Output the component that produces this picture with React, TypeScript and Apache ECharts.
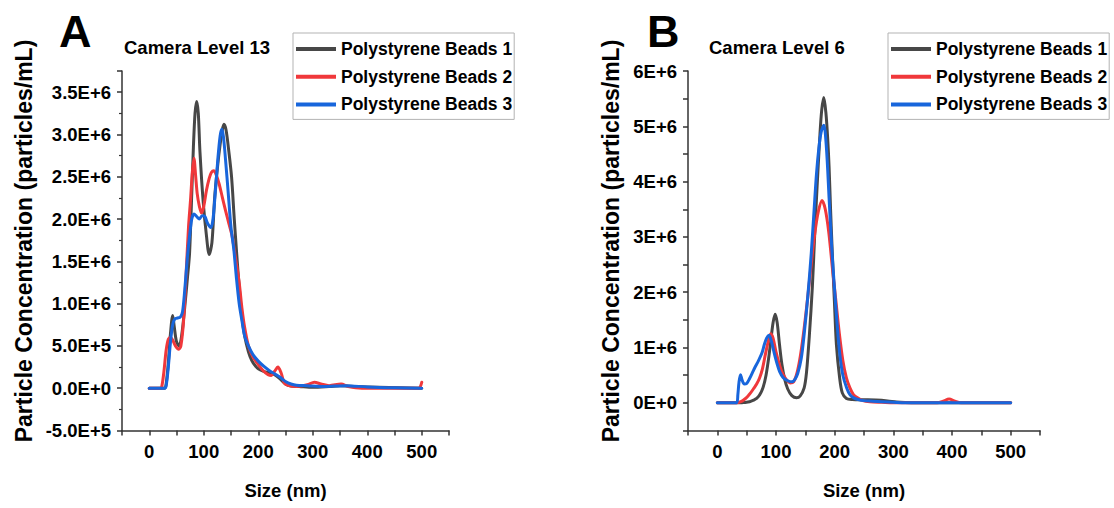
import React, { useEffect, useRef } from "react";
import * as echarts from "echarts";

// ---------- data ----------
const SERIES_NAMES = ["Polystyrene Beads 1", "Polystyrene Beads 2", "Polystyrene Beads 3"];

// Panel A: Camera Level 13 (size in nm, concentration in millions of particles/mL)
const A1_SIZE = [0, 28, 31, 35, 39, 43, 46, 50, 55, 60, 65, 70, 74, 78, 81, 84, 87, 90, 93, 99, 105, 110, 115, 120, 125, 130, 134, 137, 141, 146, 151, 156, 160, 165, 170, 175, 182, 188, 194, 200, 210, 220, 230, 240, 250, 260, 275, 300, 330, 350, 380, 420, 460, 500];
const A1_CONC_M = [0, 0, 0.05, 0.3, 0.65, 0.86, 0.72, 0.55, 0.5, 0.65, 0.95, 1.3, 1.6, 2.3, 2.85, 3.25, 3.39, 3.25, 2.8, 2.2, 1.8, 1.58, 1.72, 2.25, 2.6, 2.88, 3.05, 3.12, 3.05, 2.8, 2.5, 2.0, 1.63, 1.2, 0.85, 0.62, 0.43, 0.33, 0.27, 0.23, 0.2, 0.18, 0.16, 0.11, 0.05, 0.025, 0.02, 0.01, 0.02, 0.03, 0.02, 0.01, 0.005, 0];

const A2_SIZE = [0, 20, 23, 27, 31, 35, 39, 43, 48, 54, 58, 63, 68, 72, 76, 79, 82, 85, 88, 92, 96, 100, 105, 110, 114, 118.5, 123, 128, 134, 140, 146, 152, 158, 165, 170, 175, 182, 190, 200, 210, 218, 224, 230, 236, 242, 248, 256, 270, 290, 303, 315, 330, 352, 365, 390, 420, 460, 494, 500];
const A2_CONC_M = [0, 0, 0.02, 0.2, 0.45, 0.58, 0.6, 0.57, 0.5, 0.46, 0.5, 0.8, 1.4, 1.9, 2.25, 2.55, 2.72, 2.52, 2.3, 2.15, 2.07, 2.15, 2.34, 2.48, 2.55, 2.57, 2.52, 2.42, 2.26, 2.1, 1.95, 1.8, 1.55, 1.25, 0.95, 0.72, 0.5, 0.37, 0.28, 0.2, 0.16, 0.15, 0.2, 0.25, 0.18, 0.06, 0.03, 0.02, 0.04, 0.07, 0.05, 0.03, 0.05, 0.02, 0, 0, 0, 0, 0.07];

const A3_SIZE = [0, 28, 31, 35, 39, 43, 47, 52, 57, 61, 65, 70, 74, 78, 82, 87, 92, 97, 102, 107, 113, 117, 121, 126, 130, 133, 136, 140, 145, 150, 155, 160, 165, 170, 175, 182, 190, 200, 210, 220, 230, 240, 250, 260, 270, 290, 320, 360, 400, 450, 500];
const A3_CONC_M = [0, 0, 0.03, 0.25, 0.55, 0.75, 0.82, 0.83, 0.84, 0.9, 1.15, 1.55, 1.8, 2.0, 2.06, 2.03, 2.0, 2.04, 2.03, 1.95, 1.9, 2.0, 2.3, 2.72, 2.98, 3.06, 2.98, 2.7, 2.3, 1.9, 1.65, 1.3, 1.0, 0.8, 0.62, 0.5, 0.4, 0.32, 0.26, 0.21, 0.17, 0.13, 0.08, 0.05, 0.035, 0.03, 0.02, 0.03, 0.015, 0.005, 0];

// Panel B: Camera Level 6
const B1_SIZE = [0, 40, 45, 55, 62, 67, 72, 78, 83, 88, 92, 95, 98.5, 102, 106, 110, 115, 120, 127, 135, 141, 148, 152, 157, 162, 166, 170, 175, 178, 181.5, 185, 188, 190.5, 193, 196, 199.5, 203, 208.5, 213, 220, 230, 250, 270, 290, 305, 320, 340, 500];
const B1_CONC_M = [0, 0, 0.005, 0.02, 0.05, 0.08, 0.14, 0.28, 0.5, 0.85, 1.2, 1.45, 1.6, 1.45, 1.05, 0.7, 0.42, 0.25, 0.13, 0.09, 0.12, 0.27, 0.55, 1.24, 2.1, 3.05, 3.9, 4.87, 5.3, 5.52, 5.25, 4.8, 4.26, 3.5, 2.7, 1.85, 1.05, 0.45, 0.18, 0.08, 0.06, 0.055, 0.05, 0.035, 0.015, 0.005, 0, 0];

const B2_SIZE = [0, 32, 40, 47, 52, 56, 62, 67, 72, 77, 82, 87, 91, 95, 100, 105, 110, 117, 124, 130, 136, 142, 148, 154, 160, 166, 172, 178.5, 184, 190, 196, 202, 208, 214, 220, 226, 232, 239, 248, 260, 280, 300, 375, 385, 395, 405, 415, 500];
const B2_CONC_M = [0, 0, 0.02, 0.07, 0.12, 0.17, 0.26, 0.34, 0.45, 0.62, 0.88, 1.12, 1.25, 1.17, 0.92, 0.72, 0.56, 0.43, 0.36, 0.38, 0.55, 0.88, 1.35, 1.9, 2.5, 3.05, 3.45, 3.66, 3.5, 3.08, 2.45, 1.85, 1.25, 0.76, 0.45, 0.27, 0.15, 0.09, 0.04, 0.02, 0.01, 0, 0, 0.03, 0.07, 0.03, 0, 0];

const B3_SIZE = [0, 33, 35, 37, 39.5, 42, 46, 50, 55, 60, 64, 70, 76, 80, 84, 88, 92, 97, 102, 106, 112, 120, 127, 132, 137, 143, 148, 154, 160, 165, 169, 173, 177, 181.5, 186, 190.5, 195, 199.5, 204, 208.5, 214, 220.5, 226, 232.6, 240, 250, 265, 280, 300, 320, 500];
const B3_CONC_M = [0, 0, 0.15, 0.38, 0.51, 0.42, 0.34, 0.35, 0.44, 0.55, 0.64, 0.76, 0.9, 1.05, 1.17, 1.22, 1.12, 0.9, 0.7, 0.57, 0.46, 0.4, 0.38, 0.42, 0.53, 0.8, 1.24, 1.9, 2.69, 3.5, 4.14, 4.6, 4.9, 5.02, 4.6, 3.7, 2.8, 2.1, 1.45, 0.9, 0.5, 0.27, 0.15, 0.09, 0.06, 0.04, 0.03, 0.02, 0.01, 0, 0];

// tick labels
const X_TICK_VALUES = [0, 100, 200, 300, 400, 500];
const X_TICK_LABELS = ["0", "100", "200", "300", "400", "500"];
const A_Y_TICK_VALUES = [-5e5, 0, 5e5, 1e6, 1.5e6, 2e6, 2.5e6, 3e6, 3.5e6];
const A_Y_TICK_LABELS = ["-5.0E+5", "0.0E+0", "5.0E+5", "1.0E+6", "1.5E+6", "2.0E+6", "2.5E+6", "3.0E+6", "3.5E+6"];
const B_Y_TICK_VALUES = [0, 1e6, 2e6, 3e6, 4e6, 5e6, 6e6];
const B_Y_TICK_LABELS = ["0E+0", "1E+6", "2E+6", "3E+6", "4E+6", "5E+6", "6E+6"];

const PANEL_LETTERS = ["A", "B"];
const PANEL_TITLES = ["Camera Level 13", "Camera Level 6"];
const X_TITLE = "Size (nm)";
const Y_TITLE = "Particle Concentration (particles/mL)";

// ---------- styles ----------
const COLORS = ["#474747", "#f0383b", "#1866dc"];
const FONT = '"Liberation Sans", Arial, Helvetica, sans-serif';
const AXIS_COLOR = "#333";

function labelFrom(values: number[], labels: string[]) {
  return (v: number) => {
    for (let i = 0; i < values.length; i++) {
      if (Math.abs(values[i] - v) < 1e-3 * Math.max(1, Math.abs(values[i]))) return labels[i];
    }
    return "";
  };
}

function zip(xs: number[], ys: number[]) {
  return xs.map((x, i) => [x, ys[i] * 1e6]);
}

export default function App() {
  const ref = useRef<HTMLDivElement>(null);

  useEffect(() => {
    document.body.style.margin = "0";
    if (!ref.current) return;
    const chart = echarts.init(ref.current, null, { renderer: "svg" });

    const textBase = { fontFamily: FONT, fontWeight: "bold" as const, color: "#000" };

    const xAxisCommon = (gridIndex: number) => ({
      gridIndex,
      type: "value" as const,
      min: -50,
      max: 550,
      interval: 50,
      axisLine: { show: true, onZero: false, lineStyle: { color: AXIS_COLOR, width: 1.5 } },
      axisTick: { show: true, length: 5, lineStyle: { color: AXIS_COLOR, width: 1.5 } },
      splitLine: { show: false },
      axisLabel: {
        ...textBase,
        fontSize: 18.5,
        margin: 11,
        formatter: labelFrom(X_TICK_VALUES, X_TICK_LABELS),
      },
      name: X_TITLE,
      nameLocation: "middle" as const,
      nameGap: 50,
      nameTextStyle: { ...textBase, fontSize: 18.5 },
    });

    const series: any[] = [];
    const panels = [
      { sizes: [A1_SIZE, A2_SIZE, A3_SIZE], concs: [A1_CONC_M, A2_CONC_M, A3_CONC_M] },
      { sizes: [B1_SIZE, B2_SIZE, B3_SIZE], concs: [B1_CONC_M, B2_CONC_M, B3_CONC_M] },
    ];
    panels.forEach((p, pi) => {
      for (let s = 0; s < 3; s++) {
        series.push({
          type: "line",
          name: SERIES_NAMES[s],
          xAxisIndex: pi,
          yAxisIndex: pi,
          data: zip(p.sizes[s], p.concs[s]),
          showSymbol: false,
          symbol: "none",
          smooth: 0.3,
          color: COLORS[s],
          lineStyle: { color: COLORS[s], width: 3, cap: "round", join: "round" },
          z: 2 + s,
          silent: true,
        });
      }
    });

    const legendCommon = {
      data: SERIES_NAMES,
      orient: "vertical" as const,
      top: 33,
      icon: "rect",
      itemWidth: 40,
      itemHeight: 4,
      itemGap: 5.7,
      padding: [5, 2, 4, 3],
      borderColor: "#b3b3b3",
      borderWidth: 1,
      backgroundColor: "#fff",
      selectedMode: false,
      textStyle: { ...textBase, fontSize: 17.5, lineHeight: 22 },
    };

    const graphicText = (text: string, x: number, y: number, size: number, align: string, rotation = 0) => ({
      type: "text",
      x,
      y,
      rotation,
      silent: true,
      style: {
        text,
        fill: "#000",
        font: `bold ${size}px ${FONT}`,
        align,
        verticalAlign: "middle",
        textAlign: align,
        textVerticalAlign: "middle",
      },
    });

    const option: any = {
      animation: false,
      backgroundColor: "#fff",
      grid: [
        { left: 122, top: 71, width: 327, height: 359.5, containLabel: false, outerBoundsMode: "none" },
        { left: 688, top: 71, width: 352, height: 359.5, containLabel: false, outerBoundsMode: "none" },
      ],
      xAxis: [xAxisCommon(0), xAxisCommon(1)],
      yAxis: [
        {
          gridIndex: 0,
          type: "value",
          min: -5e5,
          max: 3.75e6,
          interval: 5e5,
          axisLine: { show: true, onZero: false, lineStyle: { color: AXIS_COLOR, width: 1.5 } },
          axisTick: { show: true, length: 5, lineStyle: { color: AXIS_COLOR, width: 1.5 } },
          minorTick: { show: true, splitNumber: 2, length: 3, lineStyle: { color: AXIS_COLOR, width: 1.2 } },
          splitLine: { show: false },
          minorSplitLine: { show: false },
          axisLabel: { ...textBase, fontSize: 18.5, margin: 11, formatter: labelFrom(A_Y_TICK_VALUES, A_Y_TICK_LABELS) },
        },
        {
          gridIndex: 1,
          type: "value",
          min: -5e5,
          max: 6e6,
          interval: 5e5,
          axisLine: { show: true, onZero: false, lineStyle: { color: AXIS_COLOR, width: 1.5 } },
          axisTick: { show: true, length: 5, lineStyle: { color: AXIS_COLOR, width: 1.5 } },
          splitLine: { show: false },
          axisLabel: { ...textBase, fontSize: 18.5, margin: 11, formatter: labelFrom(B_Y_TICK_VALUES, B_Y_TICK_LABELS) },
        },
      ],
      legend: [
        { ...legendCommon, left: 293 },
        { ...legendCommon, left: 888 },
      ],
      graphic: [
        graphicText(PANEL_LETTERS[0], 59, 31, 45, "left"),
        graphicText(PANEL_LETTERS[1], 647, 31, 45, "left"),
        graphicText(PANEL_TITLES[0], 124, 47.5, 18.5, "left"),
        graphicText(PANEL_TITLES[1], 709, 47, 18.5, "left"),
        graphicText(Y_TITLE, 23.5, 241, 23, "center", Math.PI / 2),
        graphicText(Y_TITLE, 610.5, 241, 23, "center", Math.PI / 2),
      ],
      series,
    };

    chart.setOption(option);
    return () => chart.dispose();
  }, []);

  return <div ref={ref} style={{ width: 1114, height: 508 }} />;
}
